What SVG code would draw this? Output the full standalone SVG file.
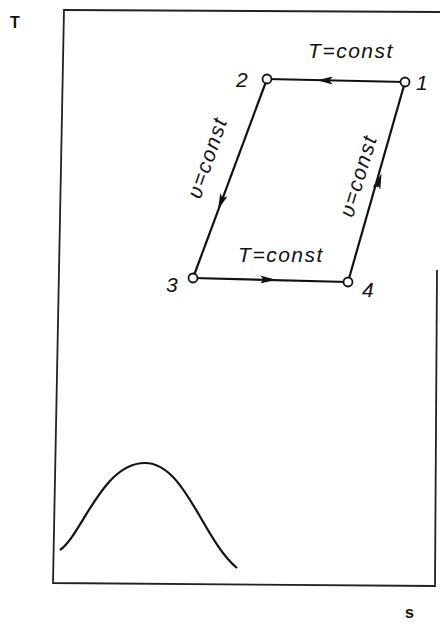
<svg xmlns="http://www.w3.org/2000/svg" width="440" height="630" viewBox="0 0 440 630">
<style>
.ln{fill:none;stroke:#111;stroke-width:2.2}
.fr{fill:none;stroke:#222;stroke-width:1.8}
.pt{fill:#fff;stroke:#111;stroke-width:1.8}
.lab{font-family:"Liberation Sans",sans-serif;font-style:italic;font-size:21px;letter-spacing:1.5px;fill:#111}
.num{font-family:"Liberation Sans",sans-serif;font-style:italic;font-size:21px;fill:#111}
.ax{font-family:"Liberation Sans",sans-serif;font-weight:bold;font-size:16px;fill:#111}
</style>
<defs>
<marker id="ah" viewBox="0 0 16 8" refX="8" refY="4" markerWidth="16" markerHeight="8" markerUnits="userSpaceOnUse" orient="auto">
<path d="M0,0 L16,4 L0,8 L4,4 Z" fill="#111"/>
</marker>
</defs>
<g id="frame">
<path class="fr" d="M64,9 L53,583 L435,586 L437,270"/>
<path class="fr" d="M64,10 L440,12"/>
</g>
<g id="connectors">
<path class="ln" d="M405,82 L267,79" />
<path class="ln" d="M330,80.5 L325,80.4" marker-end="url(#ah)"/>
<path class="ln" d="M267,79 L193,278"/>
<path class="ln" d="M223,197 L221,202" marker-end="url(#ah)"/>
<path class="ln" d="M193,278 L348,282"/>
<path class="ln" d="M262,279.5 L268,279.6" marker-end="url(#ah)"/>
<path class="ln" d="M348,282 L405,82"/>
<path class="ln" d="M377,187 L379,181" marker-end="url(#ah)"/>
</g>
<g id="n1"><circle class="pt" cx="405" cy="82" r="4.5"/><text class="num" x="416" y="90">1</text></g>
<g id="n2"><circle class="pt" cx="267" cy="79" r="4.5"/><text class="num" x="236" y="87">2</text></g>
<g id="n3"><circle class="pt" cx="193" cy="278" r="4.5"/><text class="num" x="166" y="292">3</text></g>
<g id="n4"><circle class="pt" cx="348" cy="282" r="4.5"/><text class="num" x="362" y="297">4</text></g>
<g id="labels">
<text class="lab" x="351" y="58" text-anchor="middle">T=const</text>
<text class="lab" x="281" y="262" text-anchor="middle">T=const</text>
<text class="lab" transform="translate(214,160) rotate(-71)" text-anchor="middle">υ=const</text>
<text class="lab" transform="translate(365,178) rotate(-73)" text-anchor="middle">υ=const</text>
</g>
<g id="curve">
<path class="ln" d="M60,550 C82,535 102,463 145,463 C185,463 203,540 237,568"/>
</g>
<text class="ax" x="10" y="28">T</text>
<text class="ax" x="405" y="618">s</text>
</svg>
